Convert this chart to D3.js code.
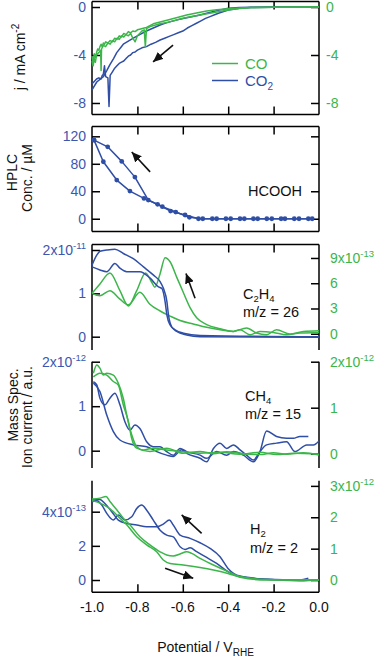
<!DOCTYPE html>
<html>
<head>
<meta charset="utf-8">
<script src="https://cdn.jsdelivr.net/npm/d3@7"></script>
<style>
  body { margin: 0; background: #fff; }
  svg text { font-family: "Liberation Sans", Arial, sans-serif; }
</style>
</head>
<body>
<svg id="chart" width="379" height="658"></svg>
<script>
// ---- data: [potential (V vs RHE), value] ----
// panel 1: current density, mA cm^-2
const jCO_a = [[-1.0,-4.1],[-0.995,-4.6],[-0.99,-3.9],[-0.985,-4.2],[-0.98,-3.8],[-0.975,-3.5],[-0.97,-3.6],[-0.965,-3.3],[-0.96,-3.1],[-0.955,-3.3],[-0.95,-3.0],[-0.945,-3.1],[-0.94,-2.9],[-0.93,-3.0],[-0.92,-2.8],[-0.91,-2.9],[-0.9,-2.6],[-0.89,-2.7],[-0.88,-2.4],[-0.87,-2.5],[-0.86,-2.2],[-0.85,-2.3],[-0.84,-2.05],[-0.83,-2.15],[-0.82,-2.0],[-0.81,-2.05],[-0.8,-1.9],[-0.79,-1.85],[-0.77,-1.75],[-0.76,-1.7],[-0.73,-1.4],[-0.7,-1.25],[-0.67,-1.1],[-0.62,-0.85],[-0.583,-0.67],[-0.54,-0.5],[-0.495,-0.33],[-0.45,-0.22],[-0.4,-0.15],[-0.35,-0.08],[-0.3,-0.04],[-0.2,-0.01],[0,0]];
const jCO_b = [[-1.0,-4.5],[-0.995,-4.9],[-0.99,-4.3],[-0.985,-4.6],[-0.98,-4.0],[-0.975,-3.9],[-0.97,-3.8],[-0.962,-3.6],[-0.96,-5.3],[-0.958,-3.5],[-0.95,-3.2],[-0.94,-3.3],[-0.93,-3.0],[-0.92,-3.1],[-0.91,-2.8],[-0.9,-2.9],[-0.89,-2.6],[-0.88,-2.7],[-0.87,-2.4],[-0.86,-2.5],[-0.85,-2.3],[-0.84,-2.4],[-0.83,-2.2],[-0.82,-2.6],[-0.81,-2.9],[-0.80,-2.4],[-0.79,-2.2],[-0.78,-2.0],[-0.77,-1.9],[-0.765,-3.3],[-0.76,-1.8],[-0.74,-1.6],[-0.7,-1.4],[-0.67,-1.3],[-0.6,-0.94],[-0.5,-0.58],[-0.4,-0.25],[-0.35,-0.12],[-0.3,-0.05],[-0.2,-0.01],[0,0]];
const jCO2_a = [[-1.0,-6.9],[-0.979,-6.25],[-0.95,-5.8],[-0.935,-5.3],[-0.921,-4.8],[-0.905,-4.3],[-0.891,-3.8],[-0.862,-3.1],[-0.818,-2.6],[-0.79,-2.3],[-0.76,-2.0],[-0.73,-1.75],[-0.7,-1.5],[-0.67,-1.3],[-0.62,-1.05],[-0.583,-0.9],[-0.53,-0.68],[-0.495,-0.52],[-0.45,-0.3],[-0.4,-0.11],[-0.35,-0.05],[-0.3,-0.02],[-0.2,0],[0,0]];
const jCO2_b = [[-1.0,-6.4],[-0.99,-6.2],[-0.98,-6.0],[-0.97,-5.9],[-0.96,-6.0],[-0.955,-5.7],[-0.95,-5.6],[-0.945,-4.9],[-0.94,-5.8],[-0.93,-5.9],[-0.925,-8.3],[-0.92,-5.7],[-0.91,-5.4],[-0.9,-5.1],[-0.89,-4.9],[-0.88,-4.7],[-0.87,-4.6],[-0.86,-4.5],[-0.85,-4.3],[-0.84,-4.1],[-0.83,-4.0],[-0.82,-3.8],[-0.81,-3.75],[-0.8,-3.6],[-0.78,-3.4],[-0.76,-3.3],[-0.74,-3.1],[-0.72,-2.95],[-0.7,-2.75],[-0.68,-2.6],[-0.66,-2.45],[-0.64,-2.3],[-0.62,-2.15],[-0.6,-2.0],[-0.58,-1.75],[-0.56,-1.55],[-0.54,-1.35],[-0.52,-1.15],[-0.5,-0.95],[-0.48,-0.8],[-0.46,-0.65],[-0.44,-0.5],[-0.42,-0.37],[-0.4,-0.25],[-0.35,-0.1],[-0.3,-0.04],[-0.2,-0.01],[0,0]];

// panel 2: HCOOH concentration, µM
const hplcA = [[-0.991,114.5],[-0.931,104.7],[-0.869,83.5],[-0.811,60.6],[-0.752,27.2],[-0.690,17.5],[-0.631,9.7],[-0.571,2.0],[-0.512,0],[-0.451,0],[-0.389,0],[-0.329,0],[-0.270,0],[-0.208,0],[-0.150,0],[-0.088,0],[-0.030,0]];
const hplcB = [[-0.991,114.5],[-0.950,83],[-0.891,56.3],[-0.833,40.3],[-0.771,29.6],[-0.711,20.9],[-0.654,11.2],[-0.590,5.4],[-0.531,0],[-0.470,0],[-0.410,0],[-0.348,0],[-0.289,0],[-0.230,0],[-0.167,0],[-0.109,0],[-0.047,0]];

// panel 3: m/z 26, CO2 in 1e-11, CO in 1e-13
const c2h4CO2_a = [[-1.0,1.65],[-0.979,1.88],[-0.965,1.97],[-0.935,2.0],[-0.899,2.02],[-0.862,1.92],[-0.818,1.80],[-0.773,1.61],[-0.729,1.42],[-0.700,1.27],[-0.685,1.11],[-0.670,0.81],[-0.663,0.50],[-0.649,0.23],[-0.627,0.12],[-0.583,0.04],[-0.524,0.0],[0,-0.01]];
const c2h4CO2_b = [[-1.0,1.61],[-0.965,1.54],[-0.935,1.50],[-0.899,1.69],[-0.877,1.58],[-0.847,1.50],[-0.789,1.50],[-0.744,1.35],[-0.707,1.15],[-0.692,1.11],[-0.678,0.81],[-0.670,0.50],[-0.656,0.27],[-0.634,0.16],[-0.597,0.08],[-0.524,0.03],[0,0.0]];
const c2h4CO_a = [[-1.0,4.8],[-0.965,5.92],[-0.921,7.22],[-0.877,5.12],[-0.840,3.31],[-0.803,5.12],[-0.764,7.22],[-0.737,6.12],[-0.723,5.52],[-0.700,7.14],[-0.678,9.03],[-0.656,8.55],[-0.627,6.73],[-0.598,4.92],[-0.568,3.11],[-0.539,1.9],[-0.495,1.09],[-0.436,0.6],[-0.377,0.28],[-0.319,0.69],[-0.275,0.08],[-0.231,-0.12],[-0.187,0.48],[-0.128,-0.04],[-0.069,0.28],[0,0.36]];
const c2h4CO_b = [[-1.0,4.8],[-0.965,4.51],[-0.921,5.12],[-0.877,4.11],[-0.840,3.43],[-0.789,4.92],[-0.745,3.51],[-0.700,2.70],[-0.656,2.10],[-0.612,1.57],[-0.554,1.17],[-0.495,0.77],[-0.436,0.48],[-0.377,0.28],[-0.348,0.48],[-0.304,-0.12],[-0.260,0.28],[-0.201,0.16],[-0.143,-0.12],[-0.084,0.08],[0,0.16]];

// panel 4: m/z 15, both in 1e-12
const ch4CO2_a = [[-0.994,1.55],[-0.979,1.48],[-0.965,1.18],[-0.943,1.03],[-0.921,1.18],[-0.899,1.29],[-0.877,1.03],[-0.855,0.65],[-0.833,0.46],[-0.811,0.58],[-0.789,0.50],[-0.759,0.20],[-0.730,0.09],[-0.700,0.09],[-0.671,-0.02],[-0.642,-0.10],[-0.612,0.05],[-0.583,-0.02],[-0.524,-0.10],[-0.495,-0.17],[-0.451,-0.02],[-0.407,-0.10],[-0.377,-0.02],[-0.333,-0.10],[-0.289,-0.25],[-0.260,-0.02],[-0.231,0.44],[-0.187,0.32],[-0.143,0.28],[-0.113,0.28],[-0.084,0.32],[-0.047,0.32]];
const ch4CO2_b = [[-0.994,1.52],[-0.965,1.33],[-0.935,0.80],[-0.906,0.43],[-0.877,0.24],[-0.818,0.13],[-0.759,0.09],[-0.715,-0.02],[-0.671,-0.10],[-0.642,-0.13],[-0.605,0.02],[-0.583,-0.06],[-0.524,-0.17],[-0.495,-0.25],[-0.465,0.05],[-0.436,0.17],[-0.407,0.05],[-0.377,0.13],[-0.348,0.02],[-0.319,-0.10],[-0.289,-0.21],[-0.260,-0.02],[-0.231,0.13],[-0.187,0.17],[-0.143,0.20],[-0.106,-0.02],[-0.054,0.13],[-0.025,0.13],[0,0.22]];
const ch4CO_a = [[-0.994,1.75],[-0.979,1.93],[-0.965,1.86],[-0.950,1.71],[-0.935,1.75],[-0.906,1.71],[-0.884,1.53],[-0.862,1.20],[-0.847,0.84],[-0.825,0.41],[-0.803,0.15],[-0.774,0.08],[-0.730,0.12],[-0.671,0.08],[-0.612,0.05],[-0.524,0.01],[-0.436,0.03],[-0.348,-0.01],[-0.260,0.03],[-0.187,-0.02],[-0.113,0.01],[0,-0.01]];
const ch4CO_b = [[-0.994,1.67],[-0.965,1.75],[-0.935,1.71],[-0.906,1.57],[-0.884,1.49],[-0.862,1.06],[-0.840,0.70],[-0.825,0.33],[-0.803,0.12],[-0.745,0.05],[-0.671,0.12],[-0.598,0.01],[-0.524,0.05],[-0.465,0.0],[-0.407,0.04],[-0.333,0.0],[-0.260,-0.02],[-0.201,0.02],[-0.143,-0.01],[-0.069,0.02],[0,-0.03]];

// panel 5: m/z 2, CO2 in 1e-13, CO in 1e-12
const h2CO2_a = [[-1.0,4.58],[-0.979,4.64],[-0.957,4.39],[-0.935,3.90],[-0.906,3.51],[-0.884,3.80],[-0.855,3.51],[-0.825,3.70],[-0.803,4.19],[-0.781,4.39],[-0.759,4.09],[-0.730,3.51],[-0.700,2.92],[-0.671,2.63],[-0.642,2.53],[-0.612,1.95],[-0.590,1.79],[-0.568,1.89],[-0.539,1.66],[-0.495,1.32],[-0.451,0.97],[-0.401,0.49],[-0.348,0.19],[-0.231,0.04],[-0.084,0.0],[-0.047,0.10]];
const h2CO2_b = [[-1.0,4.68],[-0.965,4.72],[-0.943,4.48],[-0.913,4.0],[-0.884,3.51],[-0.847,3.31],[-0.803,3.22],[-0.759,3.12],[-0.715,3.12],[-0.686,3.27],[-0.659,3.51],[-0.642,3.22],[-0.612,2.63],[-0.568,2.44],[-0.524,2.18],[-0.480,1.85],[-0.436,1.36],[-0.401,0.68],[-0.348,0.23],[-0.231,0.04],[-0.084,-0.04],[0,0.0]];
const h2CO_a = [[-1.0,2.58],[-0.965,2.61],[-0.938,2.66],[-0.921,2.50],[-0.891,2.24],[-0.862,1.97],[-0.833,1.76],[-0.789,1.38],[-0.745,1.12],[-0.700,0.90],[-0.671,0.80],[-0.642,0.77],[-0.612,0.83],[-0.583,0.90],[-0.561,0.85],[-0.524,0.69],[-0.465,0.48],[-0.401,0.27],[-0.348,0.11],[-0.231,0.02],[-0.084,0.0],[0,0.0]];
const h2CO_b = [[-1.0,2.53],[-0.965,2.45],[-0.935,2.34],[-0.906,2.18],[-0.877,1.97],[-0.847,1.76],[-0.803,1.38],[-0.759,1.12],[-0.715,0.90],[-0.686,0.64],[-0.656,0.53],[-0.598,0.48],[-0.524,0.40],[-0.465,0.32],[-0.401,0.21],[-0.348,0.09],[-0.231,0.0],[-0.084,0.0],[0,0.0]];

// tick values and labels
const potTicks = [-1.0, -0.8, -0.6, -0.4, -0.2, 0.0];
const innerPotTicks = [-0.8, -0.6, -0.4, -0.2];
const jTicks = [0, -4, -8];
const hplcTicks = [0, 40, 80, 120];
const c2h4LeftTicks = [0, 1, 2];
const c2h4RightTicks = [0, 3, 6, 9];
const ch4LeftTicks = [0, 1, 2];
const ch4RightTicks = [0, 1, 2];
const h2LeftTicks = [0, 2, 4];
const h2RightTicks = [0, 1, 2, 3];

const BLUE = "#2f4ea6";
const GREEN = "#3cb54a";
const BLUE_TXT = "#3b57b0";
const GREEN_TXT = "#3cb54a";

const svg = d3.select("#chart");
const xLeft = 92, xRight = 319;
const x = d3.scaleLinear().domain([-1, 0]).range([xLeft, xRight]);

// y scales (pixel ranges match panel boxes)
const yJ = d3.scaleLinear().domain([-8.96, 0.46]).range([114.5, 1.5]);
const yHplc = d3.scaleLinear().domain([-18.6, 134.3]).range([231.5, 126.5]);
const yC2L = d3.scaleLinear().domain([-0.307, 2.127]).range([350, 244.5]);
const yC2R = d3.scaleLinear().domain([-1.93, 10.6]).range([350, 244.5]);
const yCHL = d3.scaleLinear().domain([-0.389, 2.0]).range([468, 361.7]);
const yCHR = d3.scaleLinear().domain([-0.311, 2.0]).range([468, 361.7]);
const yH2L = d3.scaleLinear().domain([-0.72, 5.815]).range([592.3, 480.7]);
const yH2R = d3.scaleLinear().domain([-0.39, 3.165]).range([592.3, 480.7]);

const frame = svg.append("g");
const plot = svg.append("g");
const lab = svg.append("g");

// arrow head
svg.append("defs").append("marker")
    .attr("id", "head")
    .attr("markerUnits", "userSpaceOnUse")
    .attr("markerWidth", 11).attr("markerHeight", 9)
    .attr("refX", 10).attr("refY", 4.5)
    .attr("orient", "auto")
    .append("path")
    .attr("d", "M0,0 L10,4.5 L0,9 Z")
    .attr("fill", "#111");

function line(y, curve) {
    return d3.line().x(d => x(d[0])).y(d => y(d[1])).curve(curve || d3.curveLinear);
}

function drawSeries(data, y, color, curve) {
    plot.append("path")
        .attr("d", line(y, curve)(data))
        .attr("fill", "none")
        .attr("stroke", color)
        .attr("stroke-width", 1.5)
        .attr("stroke-linejoin", "round");
}

// ticks with d3 axes (inward, no labels)
function yTicks(scale, values, side) {
    const ax = side === "left" ? d3.axisLeft(scale) : d3.axisRight(scale);
    const g = frame.append("g")
        .attr("transform", `translate(${side === "left" ? xLeft : xRight},0)`)
        .call(ax.tickValues(values).tickSize(-8).tickFormat(""));
    g.select(".domain").remove();
    g.selectAll(".tick line").attr("stroke", "#000").attr("stroke-width", 1.5);
}
function xTicks(yPos, side) {
    const ax = side === "top" ? d3.axisTop(x) : d3.axisBottom(x);
    const g = frame.append("g")
        .attr("transform", `translate(0,${yPos})`)
        .call(ax.tickValues(innerPotTicks).tickSize(-8).tickFormat(""));
    g.select(".domain").remove();
    g.selectAll(".tick line").attr("stroke", "#000").attr("stroke-width", 1.5);
}
function hLine(yPos) {
    frame.append("line").attr("x1", xLeft).attr("x2", xRight)
        .attr("y1", yPos).attr("y2", yPos)
        .attr("stroke", "#000").attr("stroke-width", 1.5);
}
function vLines(y0, y1) {
    [xLeft, xRight].forEach(xx => frame.append("line")
        .attr("x1", xx).attr("x2", xx).attr("y1", y0).attr("y2", y1)
        .attr("stroke", "#000").attr("stroke-width", 1.5));
}

// tick label with optional "x10^exp"
function tickLabel(xPos, yPos, v, anchor, color, exp) {
    const t = lab.append("text")
        .attr("x", xPos).attr("y", yPos).attr("dy", "0.35em")
        .attr("text-anchor", anchor)
        .attr("fill", color)
        .attr("font-size", 14);
    if (exp) {
        t.append("tspan").text(v + "x10");
        t.append("tspan").attr("dy", -6).attr("font-size", 9.5).text(exp);
    } else {
        t.text(v);
    }
}
function yLabels(scale, values, side, color, exp, xOff) {
    const top = d3.max(values);
    values.forEach(v => {
        const xp = side === "left" ? 86 : (xOff || 330);
        tickLabel(xp, scale(v), v, side === "left" ? "end" : "start", color, v === top ? exp : null);
    });
}

// ---- panel 1: current ----
hLine(yJ.range()[1]); hLine(yJ.range()[0]);
vLines(yJ.range()[1], yJ.range()[0]);
xTicks(yJ.range()[1], "top"); xTicks(yJ.range()[0], "bottom");
yTicks(yJ, jTicks, "left"); yTicks(yJ, jTicks, "right");
drawSeries(jCO2_a, yJ, BLUE);
drawSeries(jCO2_b, yJ, BLUE);
drawSeries(jCO_a, yJ, GREEN);
drawSeries(jCO_b, yJ, GREEN);
yLabels(yJ, jTicks, "left", BLUE_TXT);
yLabels(yJ, jTicks, "right", GREEN_TXT, null, 326);

// legend
const legend = [{name: "CO", color: GREEN, y: 63.5}, {name: "CO", sub: "2", color: BLUE, y: 80.5}];
legend.forEach(d => {
    lab.append("line").attr("x1", 212).attr("x2", 238).attr("y1", d.y).attr("y2", d.y)
        .attr("stroke", d.color).attr("stroke-width", 1.5);
    const t = lab.append("text").attr("x", 245).attr("y", d.y).attr("dy", "0.36em")
        .attr("font-size", 15).attr("fill", d.color).text(d.name);
    if (d.sub) t.append("tspan").attr("dy", 4).attr("font-size", 10).text(d.sub);
});

// ---- panel 2: HPLC ----
hLine(yHplc.range()[1]); hLine(yHplc.range()[0]);
vLines(yHplc.range()[1], yHplc.range()[0]);
xTicks(yHplc.range()[1], "top"); xTicks(yHplc.range()[0], "bottom");
yTicks(yHplc, hplcTicks, "left"); yTicks(yHplc, hplcTicks, "right");
[hplcA, hplcB].forEach(s => {
    drawSeries(s, yHplc, BLUE);
    plot.append("g").selectAll("circle").data(s).join("circle")
        .attr("cx", d => x(d[0])).attr("cy", d => yHplc(d[1]))
        .attr("r", 2.4).attr("fill", BLUE);
});
yLabels(yHplc, hplcTicks, "left", BLUE_TXT);

// ---- panel 3: C2H4 ----
hLine(yC2L.range()[1]);
vLines(yC2L.range()[1], yC2L.range()[0]);
xTicks(yC2L.range()[1], "top");
yTicks(yC2L, c2h4LeftTicks, "left"); yTicks(yC2R, c2h4RightTicks, "right");
drawSeries(c2h4CO_a, yC2R, GREEN, d3.curveMonotoneX);
drawSeries(c2h4CO_b, yC2R, GREEN, d3.curveMonotoneX);
drawSeries(c2h4CO2_a, yC2L, BLUE, d3.curveMonotoneX);
drawSeries(c2h4CO2_b, yC2L, BLUE, d3.curveMonotoneX);
yLabels(yC2L, c2h4LeftTicks, "left", BLUE_TXT, "-11");
yLabels(yC2R, c2h4RightTicks, "right", GREEN_TXT, "-13");

// ---- panel 4: CH4 ----
vLines(yCHL.range()[1], yCHL.range()[0]);
yTicks(yCHL, ch4LeftTicks, "left"); yTicks(yCHR, ch4RightTicks, "right");
drawSeries(ch4CO2_a, yCHL, BLUE, d3.curveMonotoneX);
drawSeries(ch4CO2_b, yCHL, BLUE, d3.curveMonotoneX);
drawSeries(ch4CO_a, yCHR, GREEN, d3.curveMonotoneX);
drawSeries(ch4CO_b, yCHR, GREEN, d3.curveMonotoneX);
yLabels(yCHL, ch4LeftTicks, "left", BLUE_TXT, "-12");
yLabels(yCHR, ch4RightTicks, "right", GREEN_TXT, "-12");

// ---- panel 5: H2 ----
hLine(yH2L.range()[0]);
vLines(yH2L.range()[1], yH2L.range()[0]);
xTicks(yH2L.range()[0], "bottom");
yTicks(yH2L, h2LeftTicks, "left"); yTicks(yH2R, h2RightTicks, "right");
drawSeries(h2CO2_a, yH2L, BLUE, d3.curveMonotoneX);
drawSeries(h2CO2_b, yH2L, BLUE, d3.curveMonotoneX);
drawSeries(h2CO_a, yH2R, GREEN, d3.curveMonotoneX);
drawSeries(h2CO_b, yH2R, GREEN, d3.curveMonotoneX);
yLabels(yH2L, h2LeftTicks, "left", BLUE_TXT, "-13");
yLabels(yH2R, h2RightTicks, "right", GREEN_TXT, "-12");

// x tick labels
potTicks.forEach(v => {
    lab.append("text").attr("x", x(v)).attr("y", 607).attr("dy", "0.35em")
        .attr("text-anchor", "middle").attr("font-size", 14).attr("fill", "#111")
        .text(v.toFixed(1).replace("-0.0", "0.0"));
});

// axis titles
const xt = lab.append("text").attr("x", (xLeft + xRight) / 2).attr("y", 652)
    .attr("text-anchor", "middle").attr("font-size", 14).attr("fill", "#111");
xt.append("tspan").text("Potential / V");
xt.append("tspan").attr("dy", 4).attr("font-size", 10).text("RHE");

function vTitle(cx, cy, parts) {
    const t = lab.append("text").attr("transform", `translate(${cx},${cy}) rotate(-90)`)
        .attr("text-anchor", "middle").attr("font-size", 14).attr("fill", "#111");
    parts.forEach(p => {
        const s = t.append("tspan").text(p.t);
        if (p.dy) s.attr("dy", p.dy);
        if (p.fs) s.attr("font-size", p.fs);
    });
}
vTitle(25, 57, [{t: "j / mA cm"}, {t: "-2", dy: -6, fs: 10}]);
vTitle(17, 172.5, [{t: "HPLC"}]);
vTitle(31.5, 178, [{t: "Conc. / µM"}]);
vTitle(18, 405, [{t: "Mass Spec."}]);
vTitle(32, 417, [{t: "Ion current / a.u."}]);

// annotations
function note(xp, yp, parts, anchor) {
    const t = lab.append("text").attr("x", xp).attr("y", yp)
        .attr("text-anchor", anchor || "start").attr("font-size", 14.5).attr("fill", "#111");
    parts.forEach(p => {
        const s = t.append("tspan").text(p.t);
        if (p.dy) s.attr("dy", p.dy);
        if (p.fs) s.attr("font-size", p.fs);
    });
}
note(302, 196, [{t: "HCOOH"}], "end");
note(243, 299, [{t: "C"}, {t: "2", dy: 3, fs: 9.5}, {t: "H", dy: -3}, {t: "4", dy: 3, fs: 9.5}]);
note(243, 317, [{t: "m/z = 26"}]);
note(245, 400.5, [{t: "CH"}, {t: "4", dy: 3, fs: 9.5}]);
note(245, 418.5, [{t: "m/z = 15"}]);
note(250, 534, [{t: "H"}, {t: "2", dy: 3, fs: 9.5}]);
note(250, 553, [{t: "m/z = 2"}]);

// scan-direction arrows: [from, to] in data units
const arrows = [
    {y: yJ, from: [-0.643, -3.17], to: [-0.731, -4.58]},
    {y: yHplc, from: [-0.744, 68.2], to: [-0.825, 97.2]},
    {y: yC2L, from: [-0.546, 0.886], to: [-0.586, 1.46]},
    {y: yH2L, from: [-0.517, 2.73], to: [-0.605, 3.81]},
    {y: yH2L, from: [-0.678, 0.685], to: [-0.554, 0.10]}
];
arrows.forEach(a => {
    lab.append("line")
        .attr("x1", x(a.from[0])).attr("y1", a.y(a.from[1]))
        .attr("x2", x(a.to[0])).attr("y2", a.y(a.to[1]))
        .attr("stroke", "#111").attr("stroke-width", 1.6)
        .attr("marker-end", "url(#head)");
});
</script>
</body>
</html>
